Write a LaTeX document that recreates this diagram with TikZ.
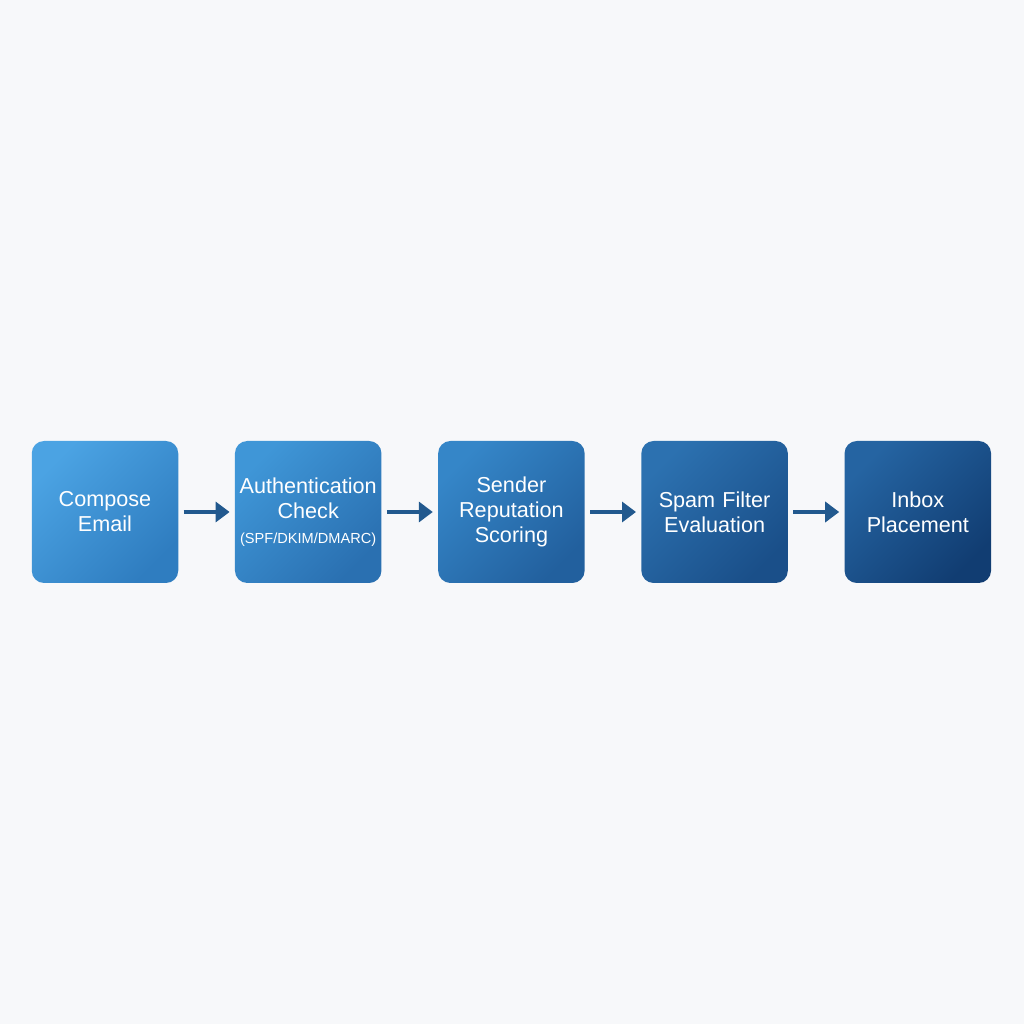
\documentclass[tikz,border=0pt]{standalone}
\usepackage{fontspec}
\setsansfont{Liberation Sans}
\usetikzlibrary{arrows.meta,positioning}
\definecolor{mailbg}{HTML}{F7F8FA}
\definecolor{mailarrow}{HTML}{22598E}
\definecolor{stepAtop}{HTML}{4BA3E3}
\definecolor{stepAbot}{HTML}{2F7DC0}
\definecolor{stepBtop}{HTML}{3F96D7}
\definecolor{stepBbot}{HTML}{2A70B1}
\definecolor{stepCtop}{HTML}{3586C8}
\definecolor{stepCbot}{HTML}{22609E}
\definecolor{stepDtop}{HTML}{2C71B0}
\definecolor{stepDbot}{HTML}{1A4F89}
\definecolor{stepEtop}{HTML}{2564A2}
\definecolor{stepEbot}{HTML}{113D72}

\begin{document}
\begin{tikzpicture}[font=\sffamily,
  stage/.style 2 args={rounded corners=7pt, minimum width=2.93cm, minimum height=2.84cm,
    text width=2.9cm, align=center, text=white, inner sep=0pt,
    font=\sffamily\fontsize{12.3}{14.2}\selectfont,
    top color=#1, bottom color=#2, shading angle=45},
  flow/.style={-{Triangle[length=2.8mm,width=4mm]}, mailarrow, line width=2.8pt,
    shorten <=0.1cm, shorten >=0.1cm}]
  \useasboundingbox[fill=mailbg] (0,0) rectangle (20.48,20.48);
  % pipeline stages
  \node[stage={stepAtop}{stepAbot}] (compose) at (2.1,10.24) {Compose\\Email};
  \node[stage={stepBtop}{stepBbot}, right=1.12cm of compose] (auth)
    {Authentication\\Check\\{\fontsize{8.3}{10}\selectfont (SPF/DKIM/DMARC)}};
  \node[stage={stepCtop}{stepCbot}, right=1.12cm of auth] (sender) {Sender\\Reputation\\Scoring};
  \node[stage={stepDtop}{stepDbot}, right=1.12cm of sender] (spam) {Spam Filter\\Evaluation};
  \node[stage={stepEtop}{stepEbot}, right=1.12cm of spam] (inbox) {Inbox\\Placement};
  % arrows between stages
  \foreach \a/\b in {compose/auth, auth/sender, sender/spam, spam/inbox}{
     \draw[flow] (\a) -- (\b);
  }
\end{tikzpicture}
\end{document}
